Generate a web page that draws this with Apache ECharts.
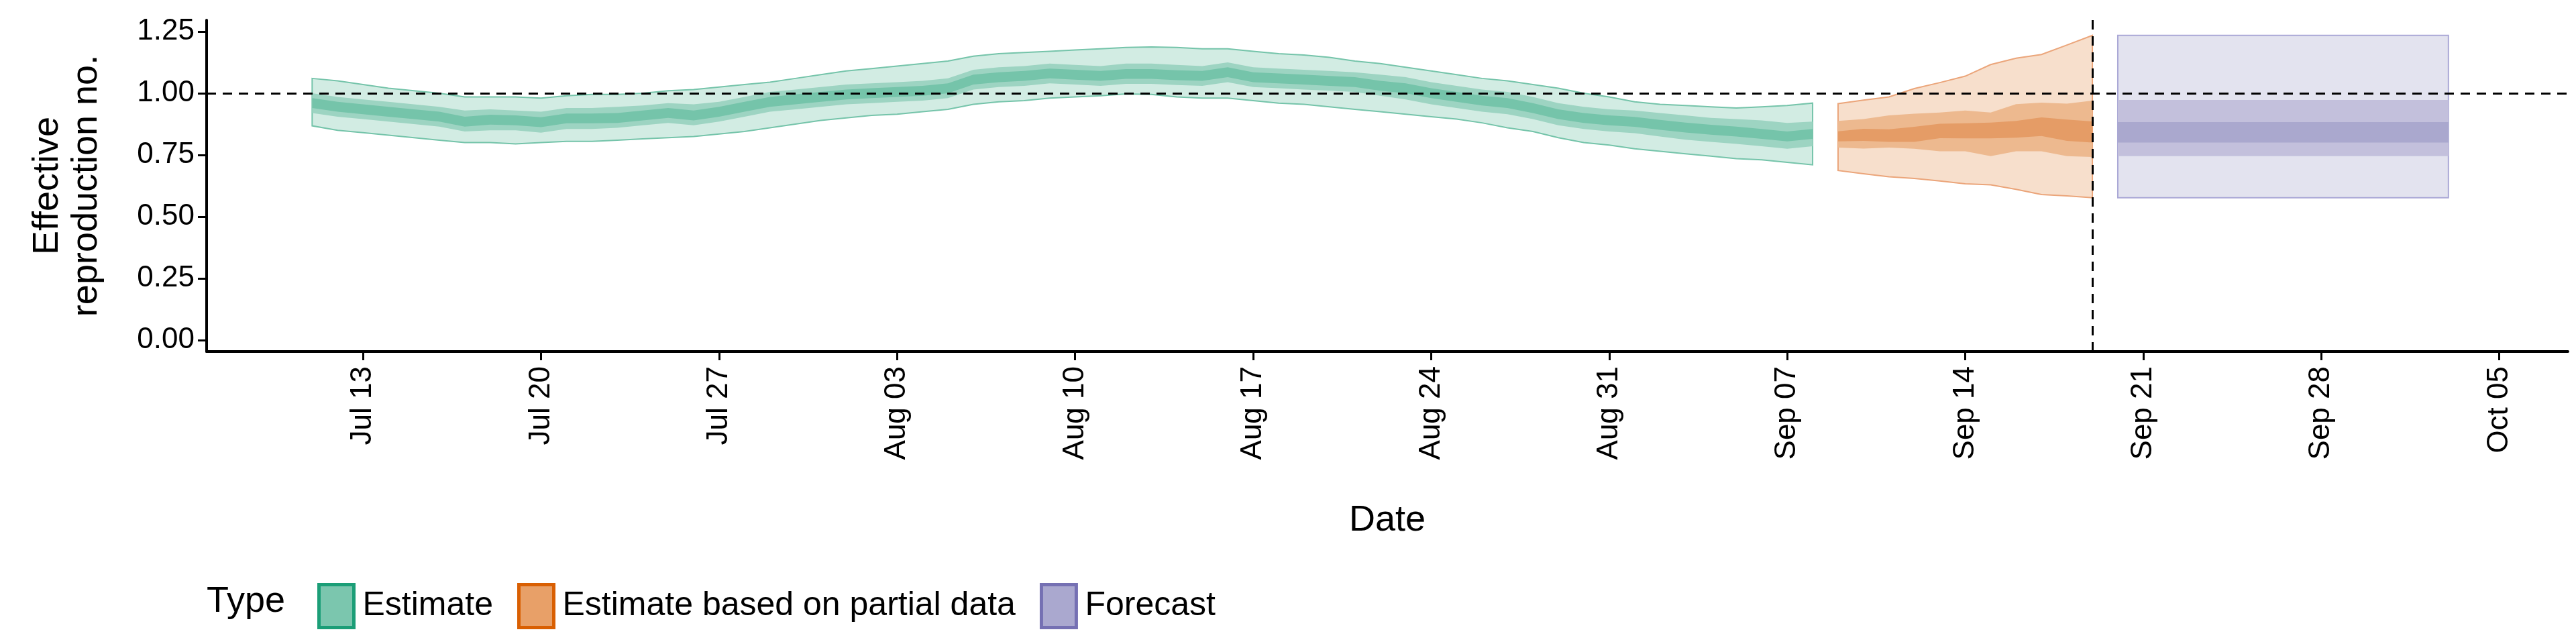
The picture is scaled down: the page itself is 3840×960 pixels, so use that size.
<!DOCTYPE html>
<html>
<head>
<meta charset="utf-8">
<script src="https://cdn.jsdelivr.net/npm/echarts@6/dist/echarts.min.js"></script>
<style>
  html, body { margin: 0; padding: 0; background: #fff; }
  #chart { width: 3840px; height: 960px; }
</style>
</head>
<body>
<div id="chart"></div>
<script>
// days are counted from Jul 13 (= 0)
const tickDays = [0, 7, 14, 21, 28, 35, 42, 49, 56, 63, 70, 77, 84];
const tickLabels = ['Jul 13', 'Jul 20', 'Jul 27', 'Aug 03', 'Aug 10', 'Aug 17', 'Aug 24',
  'Aug 31', 'Sep 07', 'Sep 14', 'Sep 21', 'Sep 28', 'Oct 05'];
const yTicks = [0, 0.25, 0.5, 0.75, 1, 1.25];

// Estimate: Jul 11 .. Sep 8
const estStart = -2;
const estLo90 = [0.868,0.85,0.84,0.83,0.82,0.81,0.80,0.80,0.795,0.80,0.805,0.805,0.81,0.815,0.82,0.825,0.835,0.845,0.86,0.875,0.89,
  0.90,0.91,0.915,0.925,0.935,0.955,0.965,0.97,0.98,0.985,0.99,0.997,0.995,0.985,0.98,0.98,0.97,0.96,0.955,0.945,0.935,0.925,0.915,0.905,0.895,0.88,0.86,0.845,0.82,0.80,0.79,
  0.775,0.765,0.755,0.745,0.735,0.73,0.72,0.71];
const estHi90 = [1.06,1.05,1.035,1.02,1.01,1.0,0.985,0.985,0.985,0.98,0.99,0.995,0.995,1.0,1.01,1.015,1.025,1.035,1.045,1.06,1.075,
  1.09,1.10,1.11,1.12,1.13,1.15,1.16,1.165,1.17,1.175,1.18,1.185,1.187,1.185,1.18,1.18,1.17,1.16,1.155,1.145,1.13,1.12,1.105,1.09,1.075,1.06,1.05,1.035,1.02,1.0,0.985,
  0.965,0.955,0.95,0.945,0.94,0.945,0.95,0.96];
const estLo50 = [0.92,0.905,0.895,0.885,0.875,0.865,0.845,0.85,0.85,0.84,0.855,0.855,0.86,0.87,0.88,0.87,0.885,0.905,0.925,0.935,0.945,
  0.955,0.96,0.965,0.97,0.98,1.015,1.025,1.03,1.04,1.035,1.03,1.038,1.038,1.033,1.03,1.045,1.025,1.02,1.015,1.01,1.005,0.99,0.975,0.955,0.94,0.925,0.915,0.895,0.87,0.855,0.845,
  0.838,0.825,0.812,0.803,0.795,0.785,0.775,0.785];
const estHi50 = [1.0,0.985,0.975,0.965,0.955,0.945,0.93,0.935,0.93,0.925,0.94,0.94,0.945,0.95,0.96,0.955,0.965,0.985,1.005,1.015,1.025,
  1.035,1.04,1.045,1.05,1.06,1.095,1.105,1.11,1.12,1.115,1.11,1.12,1.12,1.115,1.11,1.125,1.105,1.1,1.095,1.09,1.085,1.075,1.065,1.045,1.03,1.015,1.005,0.985,0.96,0.945,0.935,
  0.93,0.92,0.91,0.9,0.895,0.89,0.88,0.885];
const estLo20 = [0.94,0.925,0.915,0.905,0.895,0.885,0.865,0.873,0.87,0.863,0.878,0.878,0.88,0.89,0.90,0.89,0.905,0.925,0.945,0.955,0.965,
  0.975,0.98,0.985,0.99,1.0,1.035,1.045,1.05,1.06,1.055,1.05,1.058,1.058,1.053,1.05,1.065,1.045,1.04,1.035,1.03,1.025,1.01,1.0,0.98,0.965,0.95,0.94,0.92,0.895,0.88,0.87,
  0.864,0.852,0.841,0.832,0.825,0.815,0.805,0.815];
const estHi20 = [0.98,0.965,0.955,0.945,0.935,0.925,0.905,0.913,0.91,0.903,0.918,0.918,0.92,0.93,0.94,0.93,0.945,0.965,0.985,0.995,1.005,
  1.015,1.02,1.025,1.03,1.04,1.075,1.085,1.09,1.1,1.095,1.09,1.098,1.098,1.093,1.09,1.105,1.085,1.08,1.075,1.07,1.065,1.05,1.04,1.02,1.005,0.99,0.98,0.96,0.935,0.92,0.91,
  0.904,0.892,0.881,0.872,0.865,0.855,0.845,0.855];

// Estimate based on partial data: Sep 9 .. Sep 19
const partStart = 58;
const partLo90 = [0.687,0.674,0.662,0.655,0.645,0.633,0.629,0.611,0.590,0.584,0.577];
const partHi90 = [0.958,0.972,0.985,1.019,1.043,1.069,1.116,1.142,1.157,1.195,1.234];
const partLo50 = [0.78,0.776,0.78,0.775,0.765,0.765,0.745,0.765,0.765,0.745,0.742];
const partHi50 = [0.888,0.895,0.91,0.917,0.922,0.93,0.922,0.956,0.962,0.958,0.97];
const partLo20 = [0.805,0.807,0.803,0.803,0.818,0.817,0.817,0.82,0.827,0.807,0.80];
const partHi20 = [0.846,0.856,0.854,0.864,0.876,0.878,0.881,0.888,0.902,0.893,0.886];

// Forecast: Sep 20 .. Oct 3
const fcStart = 69;
const fcLo90 = [0.577,0.577,0.577,0.577,0.577,0.577,0.577,0.577,0.577,0.577,0.577,0.577,0.577,0.577];
const fcHi90 = [1.234,1.234,1.234,1.234,1.234,1.234,1.234,1.234,1.234,1.234,1.234,1.234,1.234,1.234];
const fcLo50 = [0.745,0.745,0.745,0.745,0.745,0.745,0.745,0.745,0.745,0.745,0.745,0.745,0.745,0.745];
const fcHi50 = [0.973,0.973,0.973,0.973,0.973,0.973,0.973,0.973,0.973,0.973,0.973,0.973,0.973,0.973];
const fcLo20 = [0.80,0.80,0.80,0.80,0.80,0.80,0.80,0.80,0.80,0.80,0.80,0.80,0.80,0.80];
const fcHi20 = [0.883,0.883,0.883,0.883,0.883,0.883,0.883,0.883,0.883,0.883,0.883,0.883,0.883,0.883];

const dataDate = 68; // Sep 19

const font = 'Liberation Sans, Arial, sans-serif';

function bandSeries(name, start, lo, hi, fill, stroke, z) {
  const data = lo.map((v, i) => [start + i, v, hi[i]]);
  return {
    type: 'custom',
    name: name,
    z: z,
    silent: true,
    data: data,
    renderItem: function (params, api) {
      if (params.dataIndex !== 0) return;
      const top = data.map(d => api.coord([d[0], d[2]]));
      const bot = data.map(d => api.coord([d[0], d[1]])).reverse();
      return {
        type: 'polygon',
        shape: { points: top.concat(bot) },
        style: { fill: fill, stroke: stroke, lineWidth: stroke ? 2 : 0 }
      };
    }
  };
}

const colors = {
  est: ['#d2ece3', '#9dd4c2', '#75c4aa', '#75c4aa'],
  part: ['#f7dfcc', '#edb98f', '#e59c66', '#eba57a'],
  fc: ['#e3e3ef', '#c3c0dc', '#aaa8ce', '#aaa8d6']
};

const series = [
  bandSeries('Estimate', estStart, estLo90, estHi90, colors.est[0], colors.est[3], 2),
  bandSeries('Estimate', estStart, estLo50, estHi50, colors.est[1], null, 3),
  bandSeries('Estimate', estStart, estLo20, estHi20, colors.est[2], null, 4),
  bandSeries('Estimate based on partial data', partStart, partLo90, partHi90, colors.part[0], colors.part[3], 2),
  bandSeries('Estimate based on partial data', partStart, partLo50, partHi50, colors.part[1], null, 3),
  bandSeries('Estimate based on partial data', partStart, partLo20, partHi20, colors.part[2], null, 4),
  bandSeries('Forecast', fcStart, fcLo90, fcHi90, colors.fc[0], colors.fc[3], 2),
  bandSeries('Forecast', fcStart, fcLo50, fcHi50, colors.fc[1], null, 3),
  bandSeries('Forecast', fcStart, fcLo20, fcHi20, colors.fc[2], null, 4),
  {
    type: 'line',
    name: 'ref',
    data: [],
    z: 10,
    markLine: {
      silent: true,
      symbol: 'none',
      label: { show: false },
      lineStyle: { color: '#000', type: [14, 10], width: 3 },
      data: [{ yAxis: 1 }, { xAxis: dataDate }]
    }
  }
];

const legendColors = {
  'Estimate': ['#7bc6ae', '#1b9e77'],
  'Estimate based on partial data': ['#e8a068', '#d95f02'],
  'Forecast': ['#aaa8cf', '#7570b3']
};

const chart = echarts.init(document.getElementById('chart'), null, { renderer: 'canvas' });
chart.setOption({
  animation: false,
  color: ['#7bc6ae', '#e8a068', '#aaa8cf'],
  grid: { left: 308, right: 12, top: 30, bottom: 436 },
  xAxis: {
    type: 'value',
    min: -6.15,
    max: 86.7,
    name: 'Date',
    nameLocation: 'middle',
    nameGap: 225,
    nameTextStyle: { fontFamily: font, fontSize: 54, color: '#000' },
    splitLine: { show: false },
    axisLine: { show: true, onZero: false, lineStyle: { color: '#000', width: 4 } },
    axisTick: { show: true, length: 13, lineStyle: { color: '#000', width: 3 }, customValues: tickDays },
    axisLabel: {
      customValues: tickDays,
      rotate: 90,
      margin: 22,
      fontFamily: font,
      fontSize: 44,
      color: '#000',
      formatter: v => tickLabels[tickDays.indexOf(v)]
    }
  },
  yAxis: {
    type: 'value',
    min: -0.046,
    max: 1.296,
    name: 'Effective\nreproduction no.',
    nameLocation: 'middle',
    nameGap: 150,
    nameTextStyle: { fontFamily: font, fontSize: 54, color: '#000', lineHeight: 58 },
    splitLine: { show: false },
    axisLine: { show: true, onZero: false, lineStyle: { color: '#000', width: 4 } },
    axisTick: { show: true, length: 13, lineStyle: { color: '#000', width: 3 }, customValues: yTicks },
    axisLabel: {
      customValues: yTicks,
      margin: 18,
      fontFamily: font,
      fontSize: 44,
      color: '#000',
      formatter: v => v.toFixed(2)
    }
  },
  legend: {
    left: 468,
    top: 864,
    itemWidth: 52,
    itemHeight: 64,
    itemGap: 36,
    icon: 'rect',
    textStyle: { fontFamily: font, fontSize: 50, color: '#000', padding: [0, 0, 0, 8] },
    data: Object.keys(legendColors).map(k => ({
      name: k,
      itemStyle: { color: legendColors[k][0], borderColor: legendColors[k][1], borderWidth: 5 }
    }))
  },
  graphic: [{
    type: 'text',
    left: 308,
    top: 870,
    style: { text: 'Type', fontFamily: font, fontSize: 54, fill: '#000' }
  }],
  series: series
});
</script>
</body>
</html>
